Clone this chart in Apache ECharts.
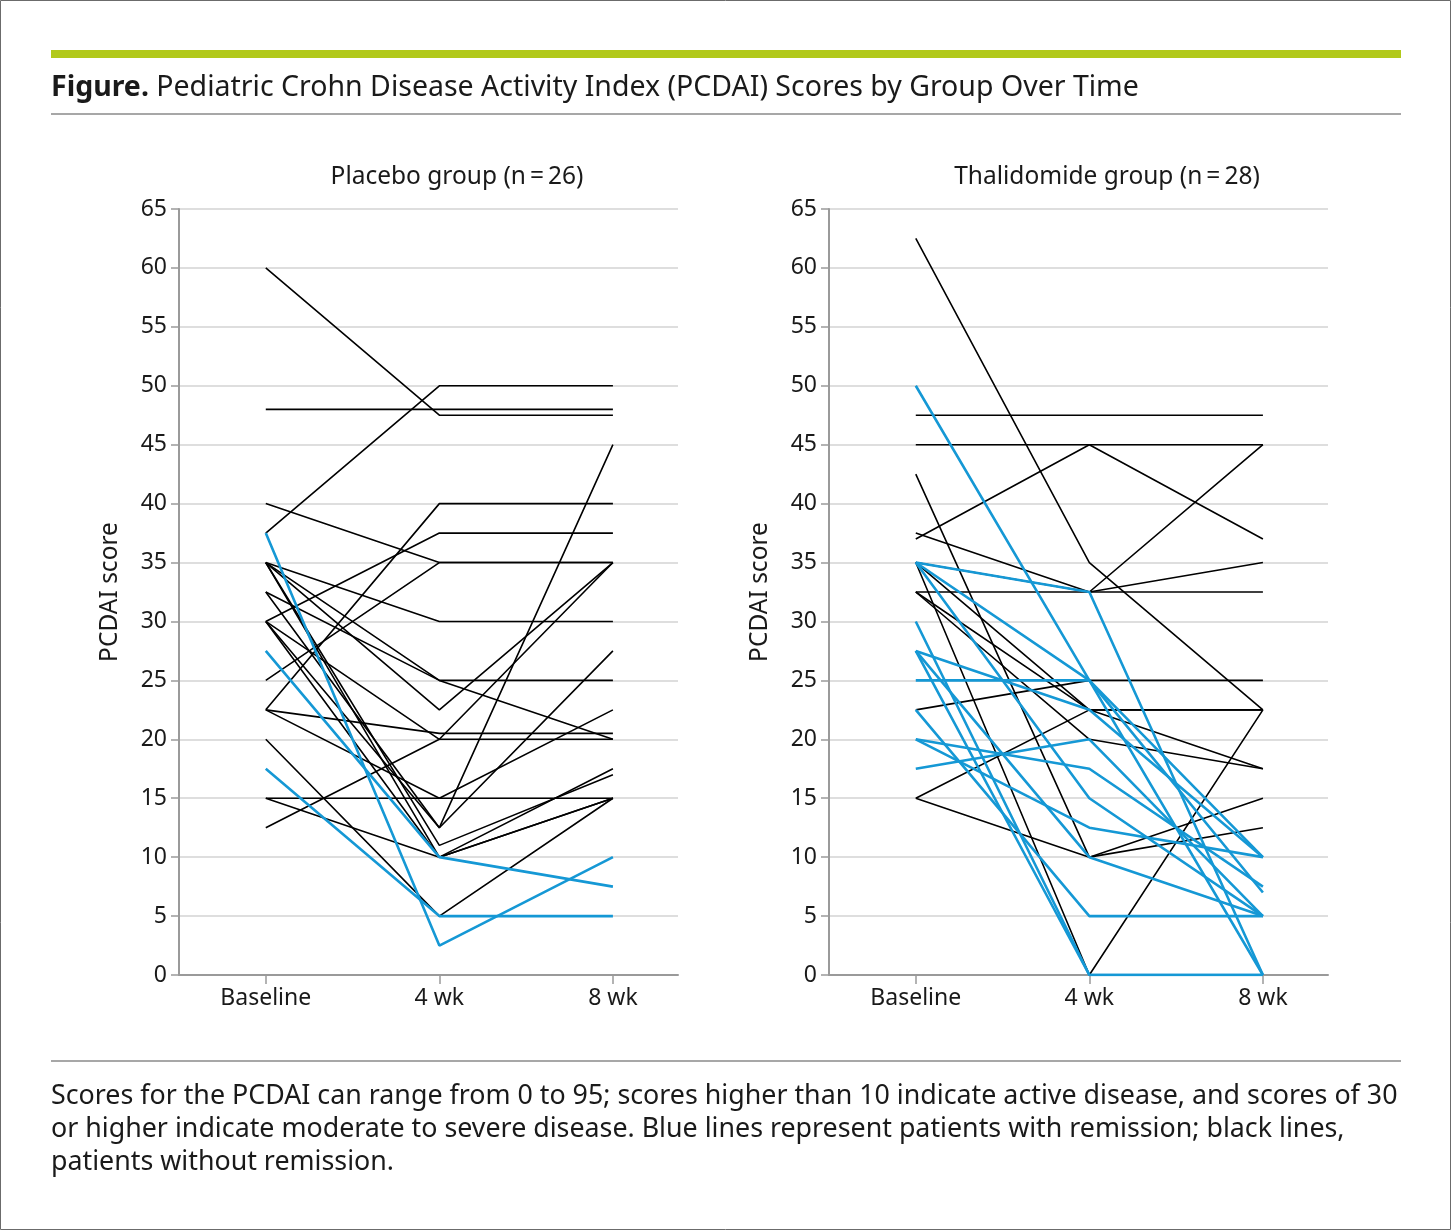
<!DOCTYPE html>
<html>
<head>
<meta charset="utf-8">
<script src="https://cdn.jsdelivr.net/npm/echarts@6/dist/echarts.min.js"></script>
<style>
  html, body { margin: 0; padding: 0; background: #fff; }
  #chart { width: 1451px; height: 1230px; }
</style>
</head>
<body>
<div id="chart"></div>
<script>
// time points on the x axis
var timepoints = ['Baseline', '4 wk', '8 wk'];

// placebo group (n = 26), PCDAI at baseline / 4 wk / 8 wk, true = remission
var placeboBase = [37.5, 27.5, 17.5, 60, 48, 37.5, 40, 25, 35, 22.5, 30, 35, 32.5, 35, 30, 22.5, 12.5, 22.5, 15, 15, 20, 30, 32.5, 35, 30, 35];
var placeboWk4  = [2.5, 10, 5, 47.5, 48, 50, 35, 35, 30, 40, 37.5, 25, 25, 22.5, 20, 20.5, 20, 15, 15, 10, 5, 12.5, 12.5, 11, 10, 10];
var placeboWk8  = [10, 7.5, 5, 47.5, 48, 50, 35, 35, 30, 40, 37.5, 25, 20, 35, 35, 20.5, 20, 22.5, 15, 17.5, 15, 45, 27.5, 17, 15, 15];
var placeboRemission = [true, true, true, false, false, false, false, false, false, false, false, false, false,
                        false, false, false, false, false, false, false, false, false, false, false, false, false];

// thalidomide group (n = 28)
var thaliBase = [62.5, 47.5, 45, 37, 37.5, 32.5, 35, 42.5, 32.5, 22.5, 15, 15, 35, 32.5, 35,
                 50, 35, 35, 30, 27.5, 27.5, 27.5, 25, 22.5, 20, 20, 17.5, 35];
var thaliWk4  = [35, 47.5, 45, 45, 32.5, 32.5, 0, 10, 20, 25, 22.5, 10, 32.5, 22.5, 22.5,
                 25, 32.5, 15, 0, 0, 22.5, 10, 25, 5, 17.5, 12.5, 20, 25];
var thaliWk8  = [22.5, 47.5, 45, 37, 45, 32.5, 22.5, 15, 17.5, 25, 22.5, 12.5, 35, 17.5, 22.5,
                 0, 0, 5, 0, 0, 10, 5, 10, 5, 7.5, 10, 5, 7];
var thaliRemission = [false, false, false, false, false, false, false, false, false, false, false, false, false, false, false,
                      true, true, true, true, true, true, true, true, true, true, true, true, true];

var FONT = 'Noto Sans';
var TXT = '#1a1a1a';
var BLUE = '#1598d5';

function buildSeries(base, wk4, wk8, remission, axisIdx) {
    var out = [];
    for (var i = 0; i < base.length; i++) {
        var blue = remission[i];
        out.push({
            type: 'line',
            xAxisIndex: axisIdx,
            yAxisIndex: axisIdx,
            data: [[0, base[i]], [1, wk4[i]], [2, wk8[i]]],
            symbol: 'none',
            silent: true,
            z: blue ? 4 : 3,
            lineStyle: {
                color: blue ? BLUE : '#000',
                width: blue ? 2.6 : 1.6
            }
        });
    }
    return out;
}

function xAxisOpt(gridIdx) {
    return {
        type: 'value',
        gridIndex: gridIdx,
        min: -0.5,
        max: 2.375,
        splitLine: { show: false },
        axisLine: { show: true, onZero: false, lineStyle: { color: '#9a9a9a', width: 2 } },
        axisTick: { show: true, customValues: [0, 1, 2], length: 9, lineStyle: { color: '#9a9a9a', width: 1.5 } },
        axisLabel: {
            customValues: [0, 1, 2],
            margin: 12,
            color: TXT,
            fontFamily: FONT,
            fontSize: 23,
            formatter: function (v) { return timepoints[Math.round(v)]; }
        }
    };
}

function yAxisOpt(gridIdx) {
    return {
        type: 'value',
        gridIndex: gridIdx,
        min: 0,
        max: 65,
        interval: 5,
        name: 'PCDAI score',
        nameLocation: 'middle',
        nameRotate: 90,
        nameGap: 56,
        nameTextStyle: { color: TXT, fontFamily: FONT, fontSize: 24.5 },
        axisLine: { show: true, onZero: false, lineStyle: { color: '#9a9a9a', width: 2 } },
        axisTick: { show: true, length: 8, lineStyle: { color: '#9a9a9a', width: 1.5 } },
        axisLabel: { color: TXT, fontFamily: FONT, fontSize: 23, margin: 12 },
        splitLine: { show: true, lineStyle: { color: '#dedede', width: 2 } }
    };
}

var chart = echarts.init(document.getElementById('chart'));

var series = buildSeries(placeboBase, placeboWk4, placeboWk8, placeboRemission, 0)
    .concat(buildSeries(thaliBase, thaliWk4, thaliWk8, thaliRemission, 1));

var option = {
    backgroundColor: '#fff',
    animation: false,
    grid: [
        { left: 179, top: 209, width: 499, height: 766 },
        { left: 829, top: 209, width: 499, height: 766 }
    ],
    xAxis: [xAxisOpt(0), xAxisOpt(1)],
    yAxis: [yAxisOpt(0), yAxisOpt(1)],
    graphic: [
        // outer frame
        { type: 'rect', shape: { x: 0.5, y: 0.5, width: 1450, height: 1229 }, style: { fill: 'none', stroke: '#6b6b6b', lineWidth: 1 }, silent: true },
        // green bar
        { type: 'rect', shape: { x: 51, y: 50, width: 1350, height: 8 }, style: { fill: '#b2c91b' }, silent: true },
        // figure title
        {
            type: 'text', x: 51, y: 88, silent: true,
            style: {
                text: '{b|Figure.} Pediatric Crohn Disease Activity Index (PCDAI) Scores by Group Over Time',
                fill: TXT, fontFamily: FONT, fontSize: 28.5, verticalAlign: 'middle',
                rich: { b: { fontWeight: 'bold', fontFamily: FONT, fontSize: 28.5, fill: TXT } }
            }
        },
        { type: 'line', shape: { x1: 51, y1: 114, x2: 1401, y2: 114 }, style: { stroke: '#8a8a8a', lineWidth: 1.5 }, silent: true },
        // panel titles
        { type: 'text', x: 457, y: 177, silent: true,
          style: { text: 'Placebo group (n\u2009=\u200926)', fill: TXT, fontFamily: FONT, fontSize: 24.5, align: 'center', verticalAlign: 'middle' } },
        { type: 'text', x: 1107, y: 177, silent: true,
          style: { text: 'Thalidomide group (n\u2009=\u200928)', fill: TXT, fontFamily: FONT, fontSize: 24.5, align: 'center', verticalAlign: 'middle' } },
        // bottom rule and footnote
        { type: 'line', shape: { x1: 51, y1: 1061, x2: 1401, y2: 1061 }, style: { stroke: '#8a8a8a', lineWidth: 1.5 }, silent: true },
        {
            type: 'text', x: 51, y: 1080, silent: true,
            style: {
                text: 'Scores for the PCDAI can range from 0 to 95; scores higher than 10 indicate active disease, and scores of 30\n' +
                      'or higher indicate moderate to severe disease. Blue lines represent patients with remission; black lines,\n' +
                      'patients without remission.',
                fill: TXT, fontFamily: FONT, fontSize: 26.8, lineHeight: 33
            }
        }
    ],
    series: series
};

chart.setOption(option);
</script>
</body>
</html>
